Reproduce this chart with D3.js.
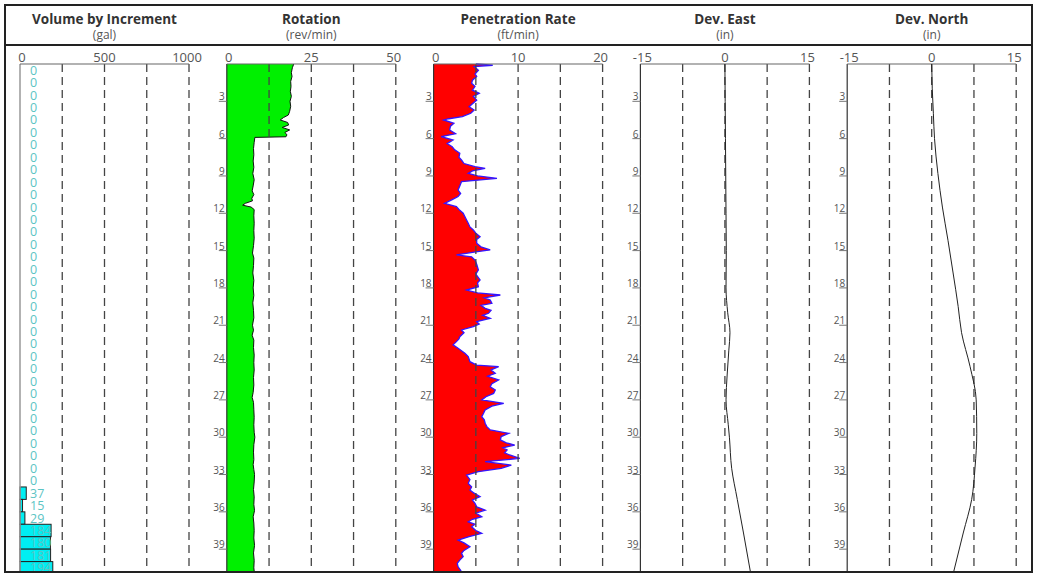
<!DOCTYPE html>
<html>
<head>
<meta charset="utf-8">
<script src="https://cdn.jsdelivr.net/npm/d3@7"></script>
<style>
  body { margin: 0; background: #fff; }
  svg { display: block; font-family: "Open Sans", sans-serif; }
</style>
</head>
<body>
<svg id="chart" width="1040" height="574"></svg>
<script>
// volume per 1 ft increment (gal), depth 0-41
let volume = [0, 0, 0, 0, 0, 0, 0, 0, 0, 0, 0, 0, 0, 0, 0, 0, 0,
  0, 0, 0, 0, 0, 0, 0, 0, 0, 0, 0, 0, 0, 0, 0, 0, 0,
  37, 15, 29, 184, 180, 181, 194];

// [depth ft, rev/min]
let rotation = [[0, 19.8], [0.3, 19.4], [0.7, 19.1], [1.0, 19.3], [1.4, 18.9], [1.8, 19.0], [2.2, 18.8],
  [2.6, 19.1], [3.0, 18.7], [3.4, 18.9], [3.8, 18.6], [4.1, 18.2], [4.3, 16.8], [4.5, 15.8], [4.7, 18.0],
  [4.9, 18.3], [5.1, 16.4], [5.3, 18.6], [5.5, 17.2], [5.7, 17.8], [5.85, 17.5], [5.9, 8.3], [6.3, 8.1],
  [6.8, 7.9], [7.3, 8.0], [7.8, 7.8], [8.3, 8.0], [8.8, 7.7], [9.3, 8.1], [9.8, 7.8], [10.2, 7.5],
  [10.5, 8.0], [10.8, 7.4], [11.0, 7.6], [11.2, 5.5], [11.35, 4.7], [11.5, 7.2], [11.7, 8.1], [12.2, 8.0],
  [12.8, 8.1], [13.4, 8.0], [14.0, 8.1], [14.6, 7.9], [15.2, 7.6], [15.6, 8.0], [16.2, 7.9], [16.8, 7.7],
  [17.4, 8.0], [18.0, 7.8], [18.6, 8.0], [19.2, 7.7], [19.8, 7.9], [20.4, 8.0], [21.0, 7.6], [21.4, 7.9],
  [21.8, 7.5], [22.2, 8.0], [22.8, 7.9], [23.4, 8.1], [24.0, 8.0], [24.6, 8.1], [25.2, 7.9], [25.8, 8.0],
  [26.4, 7.8], [26.8, 7.5], [27.2, 7.9], [27.8, 8.0], [28.4, 8.1], [29.0, 8.0], [29.6, 8.1], [30.0, 8.3],
  [30.6, 8.0], [31.2, 7.9], [31.8, 8.0], [32.2, 7.8], [32.6, 8.0], [33.0, 8.2], [33.6, 8.1], [34.2, 7.9],
  [34.8, 8.1], [35.4, 8.0], [35.9, 8.2], [36.4, 7.8], [36.9, 8.0], [37.5, 8.1], [38.1, 8.0], [38.7, 8.2],
  [39.3, 7.9], [39.9, 8.1], [40.5, 8.0], [41, 8.2]];

// [depth ft, ft/min]
let penetration = [[0, 5.0], [0.1, 7.0], [0.2, 4.8], [0.5, 5.3], [0.8, 4.9], [1.0, 5.1], [1.3, 4.6],
  [1.55, 4.5], [1.8, 4.9], [2.1, 4.6], [2.36, 5.4], [2.6, 4.7], [2.9, 5.1], [3.2, 4.6], [3.43, 4.2],
  [3.7, 4.8], [3.96, 4.4], [4.23, 3.4], [4.4, 1.8], [4.5, 1.2], [4.77, 2.4], [5.0, 2.0], [5.3, 1.9],
  [5.6, 2.6], [5.84, 0.9], [6.11, 2.3], [6.4, 1.6], [6.65, 2.2], [6.9, 2.5], [7.18, 3.1], [7.5, 3.0],
  [7.72, 3.3], [8.0, 3.6], [8.25, 4.9], [8.39, 6.1], [8.6, 4.6], [8.79, 4.1], [9.0, 5.2], [9.19, 7.5],
  [9.46, 3.3], [9.8, 3.1], [10.13, 2.9], [10.4, 3.2], [10.66, 2.9], [10.9, 2.2], [11.2, 1.3], [11.47, 2.7],
  [11.7, 3.0], [12.0, 3.5], [12.4, 3.8], [12.8, 4.1], [13.1, 4.3], [13.34, 4.7], [13.6, 5.0], [13.88, 5.5],
  [14.1, 5.1], [14.41, 5.1], [14.7, 5.6], [14.95, 6.7], [15.1, 5.0], [15.35, 2.7], [15.5, 4.5], [15.76, 4.9],
  [16.1, 5.1], [16.56, 5.3], [16.9, 5.0], [17.36, 5.5], [17.6, 5.2], [17.9, 5.3], [18.17, 3.9], [18.4, 5.2],
  [18.57, 7.9], [18.8, 6.0], [18.97, 6.7], [19.24, 6.9], [19.4, 5.6], [19.64, 6.1], [19.8, 6.8], [20.04, 6.5],
  [20.2, 5.8], [20.44, 6.7], [20.71, 5.1], [20.9, 5.4], [21.11, 4.7], [21.38, 3.3], [21.6, 3.6], [21.92, 3.1],
  [22.1, 3.0], [22.32, 2.7], [22.58, 2.3], [22.85, 2.9], [23.05, 3.3], [23.26, 3.7], [23.52, 4.1], [23.93, 4.3],
  [24.2, 5.1], [24.33, 7.7], [24.6, 6.8], [24.87, 7.3], [25.1, 6.4], [25.4, 7.7], [25.7, 6.9], [25.94, 6.7],
  [26.2, 7.3], [26.48, 7.1], [26.75, 6.2], [27.0, 5.7], [27.28, 8.3], [27.5, 6.9], [27.81, 6.1], [28.1, 5.9],
  [28.35, 5.7], [28.6, 6.0], [28.88, 6.1], [29.15, 6.3], [29.42, 6.7], [29.69, 8.9], [29.95, 8.0], [30.22, 7.9],
  [30.45, 8.6], [30.63, 9.6], [30.85, 8.2], [31.03, 8.7], [31.25, 8.4], [31.43, 9.0], [31.7, 10.2], [31.97, 6.1],
  [32.24, 9.2], [32.5, 8.0], [32.77, 5.3], [33.04, 3.9], [33.4, 4.3], [33.71, 4.1], [34.0, 4.5], [34.25, 4.3],
  [34.5, 4.8], [34.78, 5.5], [35.05, 4.6], [35.32, 4.9], [35.6, 5.1], [35.86, 6.1], [36.1, 5.0], [36.39, 5.7],
  [36.6, 4.6], [36.8, 4.1], [37.0, 4.9], [37.2, 4.5], [37.5, 5.0], [37.73, 5.7], [38.0, 4.2], [38.27, 2.9],
  [38.5, 3.6], [38.81, 4.3], [39.1, 3.6], [39.34, 3.3], [39.6, 3.5], [39.88, 3.1], [40.15, 2.8], [40.42, 2.9],
  [40.7, 3.2], [41, 3.4]];

// [depth ft, in]
let devEast = [[0, 0], [3, 0.05], [6, 0.1], [9, 0.15], [12, 0.2], [15, 0.25], [18, 0.2], [20, 0.5],
  [21.6, 0.9], [23, 0.7], [25, 0.4], [27, 0.2], [29, 0.6], [30, 0.8], [32.5, 1.2], [35, 2.2], [37.7, 3.3], [41, 4.6]];
let devNorth = [[0, 0], [2, 0.1], [4, 0.3], [6, 0.5], [8.8, 1.1], [11.5, 1.9], [14.2, 2.9], [16.8, 3.8],
  [19.5, 4.7], [21.6, 5.3], [24.3, 6.8], [27, 7.9], [29.7, 8.0], [32.4, 7.7], [35, 7.1], [37.7, 5.6], [41, 3.8]];

let tracks = [
  { title: 'Volume by Increment', unit: '(gal)', domain: [0, 1000], labels: [0, 500, 1000] },
  { title: 'Rotation', unit: '(rev/min)', domain: [0, 50], labels: [0, 25, 50] },
  { title: 'Penetration Rate', unit: '(ft/min)', domain: [0, 20], labels: [0, 10, 20] },
  { title: 'Dev. East', unit: '(in)', domain: [-15, 15], labels: [-15, 0, 15] },
  { title: 'Dev. North', unit: '(in)', domain: [-15, 15], labels: [-15, 0, 15] }
];
let depthTicks = [3, 6, 9, 12, 15, 18, 21, 24, 27, 30, 33, 36, 39];

let plotTop = 64;
let trackWidth = 169;
let trackStep = 206.8;
let trackLeft = 20;

let svg = d3.select('#chart');

let y = d3.scaleLinear().domain([0, 41]).range([plotTop, plotTop + 41 * 12.44]);

svg.append('defs').append('clipPath').attr('id', 'clip')
  .append('rect').attr('x', 0).attr('y', 46).attr('width', 1040).attr('height', 525);

let body = svg.append('g').attr('clip-path', 'url(#clip)');

tracks.forEach((t, i) => {
  let x0 = trackLeft + i * trackStep;
  t.x = d3.scaleLinear().domain(t.domain).range([x0, x0 + trackWidth]);

  // header text
  svg.append('text')
    .text(t.title)
    .attr('x', x0 + trackWidth / 2)
    .attr('y', 24)
    .attr('text-anchor', 'middle')
    .style('font-size', '13.5px')
    .style('font-weight', 700)
    .attr('fill', '#333');
  svg.append('text')
    .text(t.unit)
    .attr('x', x0 + trackWidth / 2)
    .attr('y', 39)
    .attr('text-anchor', 'middle')
    .style('font-size', '12px')
    .attr('fill', '#555');

  // top scale labels
  svg.selectAll(null)
    .data(t.labels)
    .enter()
    .append('text')
    .text((d) => d)
    .attr('x', (d, k) => t.x(d) + (k === 0 ? 2 : k === 2 ? -2 : 0))
    .attr('y', 62)
    .attr('text-anchor', 'middle')
    .style('font-size', '13px')
    .attr('fill', '#555');
});

// data marks
let vol = tracks[0];
body.selectAll('.vol-bar')
  .data(volume.map((v, k) => ({ v, k })).filter((d) => d.v > 0))
  .enter()
  .append('rect')
  .attr('class', 'vol-bar')
  .attr('x', vol.x(0))
  .attr('y', (d) => y(d.k))
  .attr('width', (d) => vol.x(d.v) - vol.x(0))
  .attr('height', y(1) - y(0))
  .attr('fill', '#00eef2')
  .attr('stroke', '#222')
  .attr('stroke-width', 1);

let rot = tracks[1];
body.append('path')
  .datum(rotation)
  .attr('d', d3.area().x0(rot.x(0)).x1((d) => rot.x(d[1])).y((d) => y(d[0])))
  .attr('fill', '#00f000');
body.append('path')
  .datum(rotation)
  .attr('d', d3.line().x((d) => rot.x(d[1])).y((d) => y(d[0])))
  .attr('fill', 'none')
  .attr('stroke', '#111')
  .attr('stroke-width', 1);

let pen = tracks[2];
body.append('path')
  .datum(penetration)
  .attr('d', d3.area().x0(pen.x(0)).x1((d) => pen.x(d[1])).y((d) => y(d[0])))
  .attr('fill', '#ff0000');
body.append('path')
  .datum(penetration)
  .attr('d', d3.line().x((d) => pen.x(d[1])).y((d) => y(d[0])))
  .attr('fill', 'none')
  .attr('stroke', '#3316ff')
  .attr('stroke-width', 1.3);

// grid lines (dashed, quarter divisions) drawn over fills
tracks.forEach((t, i) => {
  let x0 = t.x.range()[0];
  let span = t.domain[1] - t.domain[0];
  let grid = [1, 2, 3, 4].map((q) => t.domain[0] + q * span / 4);
  body.selectAll(null)
    .data(grid)
    .enter()
    .append('line')
    .attr('x1', (d) => t.x(d))
    .attr('x2', (d) => t.x(d))
    .attr('y1', plotTop)
    .attr('y2', 574)
    .attr('stroke', '#444')
    .attr('stroke-width', 1.3)
    .attr('stroke-dasharray', '8,5');

  // left edge and top axis
  body.append('line')
    .attr('x1', x0).attr('x2', x0)
    .attr('y1', plotTop).attr('y2', 574)
    .attr('stroke', i === 0 ? '#999' : '#333')
    .attr('stroke-width', i === 0 ? 1.5 : 1.2);
  body.append('line')
    .attr('x1', x0).attr('x2', x0 + trackWidth)
    .attr('y1', plotTop).attr('y2', plotTop)
    .attr('stroke', '#666')
    .attr('stroke-width', 1.2);

  // depth ticks
  if (i > 0) {
    body.selectAll(null)
      .data(depthTicks)
      .enter()
      .append('line')
      .attr('x1', x0 - 8).attr('x2', x0)
      .attr('y1', (d) => y(d)).attr('y2', (d) => y(d))
      .attr('stroke', '#777')
      .attr('stroke-width', 1);
    body.selectAll(null)
      .data(depthTicks)
      .enter()
      .append('text')
      .text((d) => d)
      .attr('x', x0 - 2)
      .attr('y', (d) => y(d) - 1)
      .attr('text-anchor', 'end')
      .style('font-size', '10px')
      .attr('fill', '#555');
  }
});

// deviation curves
[tracks[3], tracks[4]].forEach((t, i) => {
  body.append('path')
    .datum(i === 0 ? devEast : devNorth)
    .attr('d', d3.line().curve(d3.curveMonotoneY).x((d) => t.x(d[1])).y((d) => y(d[0])))
    .attr('fill', 'none')
    .attr('stroke', '#222')
    .attr('stroke-width', 1);
});

// volume labels
body.selectAll('.vol-label')
  .data(volume)
  .enter()
  .append('text')
  .attr('class', 'vol-label')
  .text((d) => d)
  .attr('x', vol.x(0) + 10)
  .attr('y', (d, k) => y(k + 0.5) + 4.5)
  .style('font-size', '12.5px')
  .attr('fill', '#5cc4c4');

// frame
svg.append('rect')
  .attr('x', 5).attr('y', 5)
  .attr('width', 1027).attr('height', 567)
  .attr('fill', 'none')
  .attr('stroke', '#222')
  .attr('stroke-width', 2);
svg.append('line')
  .attr('x1', 5).attr('x2', 1032)
  .attr('y1', 45).attr('y2', 45)
  .attr('stroke', '#222')
  .attr('stroke-width', 2);
</script>
</body>
</html>
